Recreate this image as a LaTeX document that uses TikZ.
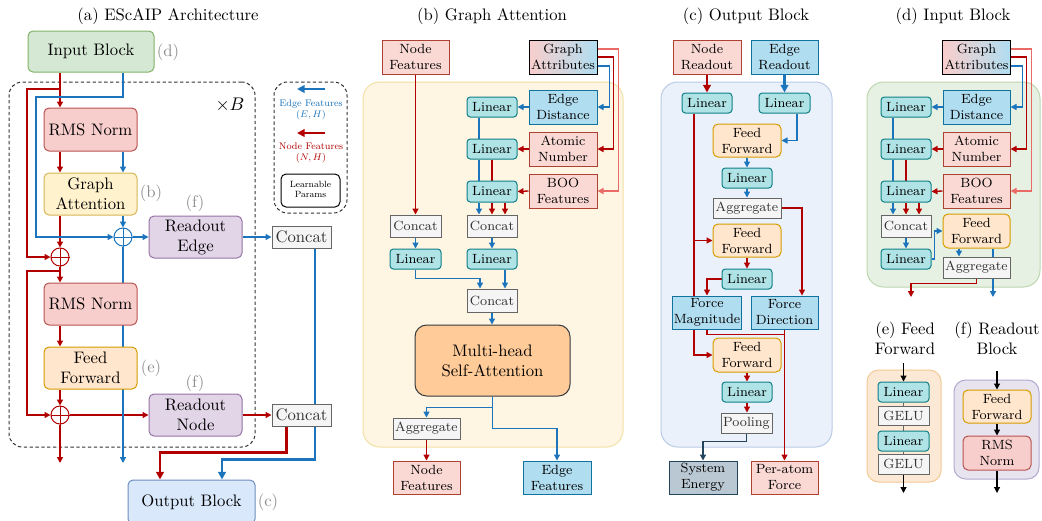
\documentclass[tikz,border=0pt]{standalone}
\usetikzlibrary{arrows.meta,calc}
\pgfdeclarelayer{panel}
\pgfdeclarelayer{lines}
\pgfsetlayers{panel,lines,main}
\definecolor{nred}{HTML}{B20000}
\definecolor{lred}{HTML}{EA6B66}
\definecolor{eblue}{HTML}{1C75BC}
\definecolor{redF}{HTML}{FAD9D5}\definecolor{redD}{HTML}{AE4132}
\definecolor{bluF}{HTML}{B1DDF0}\definecolor{bluD}{HTML}{10739E}
\definecolor{linF}{HTML}{B0E3E6}\definecolor{linD}{HTML}{0E8088}
\definecolor{gryF}{HTML}{F5F5F5}\definecolor{gryD}{HTML}{666666}
\definecolor{ffF}{HTML}{FFE6CC}\definecolor{ffD}{HTML}{D79B00}
\definecolor{rmsF}{HTML}{F8CECC}\definecolor{rmsD}{HTML}{B85450}
\definecolor{gaF}{HTML}{FFF2CC}\definecolor{gaD}{HTML}{D6B656}
\definecolor{puF}{HTML}{E1D5E7}\definecolor{puD}{HTML}{9673A6}
\definecolor{inF}{HTML}{D5E8D4}\definecolor{inD}{HTML}{82B366}
\definecolor{outF}{HTML}{DAE8FC}\definecolor{outD}{HTML}{6C8EBF}
\definecolor{mhF}{HTML}{FFCC99}\definecolor{mhD}{HTML}{36393D}
\definecolor{seF}{HTML}{BAC8D3}\definecolor{seD}{HTML}{23445D}
\definecolor{pbF}{HTML}{FEF5E2}\definecolor{pbD}{HTML}{F2E0A6}
\definecolor{pcF}{HTML}{EBF1FB}\definecolor{pcD}{HTML}{B9CBE6}
\definecolor{pdF}{HTML}{E7F1E3}\definecolor{pdD}{HTML}{BCD6AE}
\definecolor{peF}{HTML}{FCE9D5}\definecolor{peD}{HTML}{F2C994}
\definecolor{pfF}{HTML}{E7E3EF}\definecolor{pfD}{HTML}{B3A9CF}
\newcommand\mybox[7]{\node[#1, minimum width={((#5)-(#3))*0.6pt}, minimum height={((#6)-(#4))*0.6pt}] (#2) at ({((#3)+(#5))/2},{((#4)+(#6))/2}) {#7};}
\tikzset{
 bx/.style={draw, line width=0.6pt, inner sep=1pt, align=center},
 bigf/.style={font=\fontsize{10}{12}\selectfont},
 smf/.style={font=\fontsize{8}{9.6}\selectfont},
 inbox/.style={bx,bigf,rounded corners=3pt,fill=inF,draw=inD},
 rmsbox/.style={bx,bigf,rounded corners=3pt,fill=rmsF,draw=rmsD},
 gabox/.style={bx,bigf,rounded corners=3pt,fill=gaF,draw=gaD},
 ffbig/.style={bx,bigf,rounded corners=3pt,fill=ffF,draw=ffD},
 pubox/.style={bx,bigf,rounded corners=3pt,fill=puF,draw=puD},
 catbig/.style={bx,bigf,fill=gryF,draw=gryD,text=black!80},
 outbox/.style={bx,bigf,rounded corners=3pt,fill=outF,draw=outD},
 redbox/.style={bx,smf,fill=redF,draw=redD},
 blubox/.style={bx,smf,fill=bluF,draw=bluD},
 attbox/.style={bx,smf,left color=rmsF,right color=bluF,draw=black},
 linbox/.style={bx,smf,rounded corners=2pt,fill=linF,draw=linD},
 catbox/.style={bx,smf,fill=gryF,draw=gryD,text=black!80},
 ffbox/.style={bx,smf,rounded corners=3pt,fill=ffF,draw=ffD},
 rmssm/.style={bx,smf,rounded corners=3pt,fill=rmsF,draw=rmsD},
 mhbox/.style={bx,bigf,rounded corners=7pt,fill=mhF,draw=mhD},
 sebox/.style={bx,smf,fill=seF,draw=seD},
 pnl/.style={draw, line width=0.6pt, rounded corners=10pt},
 dashbox/.style={draw=black!80, line width=0.6pt, dash pattern=on 2pt off 1.5pt, rounded corners=8pt},
 lpbox/.style={draw=black, line width=0.6pt, rounded corners=3pt, align=center, inner sep=0pt, font=\fontsize{8}{9.6}\selectfont},
 lgtxt/.style={font=\fontsize{8}{9.6}\selectfont, align=center},
 ttl/.style={font=\fontsize{10}{12}\selectfont, align=center},
 glbl/.style={font=\fontsize{10}{12}\selectfont, text=black!45},
 rl/.style={draw=nred, line width=0.8pt},
 ll/.style={draw=lred, line width=0.8pt},
 bl/.style={draw=eblue, line width=0.8pt},
 kl/.style={draw=black, line width=0.7pt},
 arr/.style={-{Triangle[length=3.6pt,width=3.6pt]}},
 tarr/.style={-{Triangle[length=4.6pt,width=4.6pt]}},
 thk/.style={line width=1.5pt},
 pls/.style={circle, draw, line width=0.6pt, minimum size=10.8pt, inner sep=0pt},
}
\begin{document}
\begin{tikzpicture}[x=0.6pt,y=-0.6pt]
\useasboundingbox (0,0) rectangle (1042,520);
\begin{pgfonlayer}{panel}
\fill[white] (0,0) rectangle (1042,520);
\end{pgfonlayer}
% ================= (a) =================
\node[ttl] (ta) at (168,16) {(a) EScAIP Architecture};
\mybox{inbox}{inb}{28}{31}{154}{72}{Input Block}
\node[glbl] (ld) at (168,52) {(d)};
\begin{pgfonlayer}{panel}
\mybox{dashbox}{blk}{9}{82}{255}{447}{}
\mybox{dashbox}{lg}{274}{82}{347}{213}{}
\end{pgfonlayer}
\node[font=\fontsize{11}{13}\selectfont] (xb) at (230,105) {$\times B$};
\mybox{rmsbox}{rms1}{44}{108}{137}{151}{RMS Norm}
\mybox{gabox}{ga}{44}{173}{137}{215}{Graph\\Attention}
\node[glbl] (lb) at (151,193) {(b)};
\node[glbl] (lf1) at (195,203) {(f)};
\mybox{pubox}{re}{149}{216}{242}{258}{Readout\\Edge}
\mybox{catbig}{c1}{272}{226}{331}{248}{Concat}
\node[pls, draw=eblue] (pb) at (123,237) {};
\draw[eblue, line width=0.6pt] (pb.north) -- (pb.south) (pb.west) -- (pb.east);
\node[pls, draw=nred] (pr1) at (60,257) {};
\draw[nred, line width=0.6pt] (pr1.north) -- (pr1.south) (pr1.west) -- (pr1.east);
\node[pls, draw=nred] (pr2) at (60,415) {};
\draw[nred, line width=0.6pt] (pr2.north) -- (pr2.south) (pr2.west) -- (pr2.east);
\mybox{rmsbox}{rms2}{44}{283}{137}{325}{RMS Norm}
\mybox{ffbig}{ff}{44}{347}{137}{389}{Feed\\Forward}
\node[glbl] (le) at (151,368) {(e)};
\node[glbl] (lf2) at (195,383) {(f)};
\mybox{pubox}{rn}{149}{394}{242}{436}{Readout\\Node}
\mybox{catbig}{c2}{272}{404}{331}{426}{Concat}
\begin{scope}
\clip (0,0) rectangle (1042,520);
\mybox{outbox}{ob}{128}{480}{255}{524}{Output Block}
\end{scope}
\node[glbl] (lc) at (268,502) {(c)};
\coordinate (aN) at (60,463);
\coordinate (aE) at (123,463);
% legend
\coordinate (lgb1) at (325,89); \coordinate (lgb2) at (297,89);
\coordinate (lgr1) at (325,133); \coordinate (lgr2) at (297,133);
\node[lgtxt, text=eblue] (lgE) at (311,110) {\scalebox{0.72}{\begin{tabular}{@{}c@{}}Edge Features\\[-0.5pt]$(E,H)$\end{tabular}}};
\node[lgtxt, text=nred] (lgN) at (311,153) {\scalebox{0.72}{\begin{tabular}{@{}c@{}}Node Features\\[-0.5pt]$(N,H)$\end{tabular}}};
\mybox{lpbox}{lp}{281}{174}{340}{207}{\scalebox{0.68}{\begin{tabular}{@{}c@{}}Learnable\\[-1pt]Params\end{tabular}}}
\begin{pgfonlayer}{lines}
\draw[rl,arr] (pr1 |- inb.south) -- (pr1 |- rms1.north);
\draw[rl,arr] (60,89) -- (27,89) -- (27,257) -- (pr1.west);
\draw[rl,arr] (pr1 |- rms1.south) -- (pr1 |- ga.north);
\draw[rl,arr] (pr1 |- ga.south) -- (pr1.north);
\draw[rl,arr] (pr1.south) -- (pr1 |- rms2.north);
\draw[rl,arr] (60,271) -- (27,271) -- (27,415) -- (pr2.west);
\draw[rl,arr] (pr1 |- rms2.south) -- (pr1 |- ff.north);
\draw[rl,arr] (pr2 |- ff.south) -- (pr2.north);
\draw[rl,arr] (pr2.east) -- (rn.west);
\draw[rl,arr] (pr2.south) -- (aN);
\draw[rl,arr] (rn.east) -- (c2.west);
\draw[rl,thk,tarr] ($(c2.south)+(-15,0)$) -- ++(0,26) -| ($(ob.north)+(-31.5,0)$);
\draw[bl,arr] (pb |- inb.south) -- (123,97) -- (36,97) -- (36,237) -- (pb.west);
\draw[bl,arr] (pb |- rms1.south) -- (pb |- ga.north);
\draw[bl,arr] (pb |- ga.south) -- (pb.north);
\draw[bl,arr] (pb.east) -- (re.west);
\draw[bl,arr] (pb.south) -- (aE);
\draw[bl,arr] (re.east) -- (c1.west);
\draw[bl,thk,tarr] ($(c1.south)+(13.5,0)$) -- ($(c2.south)+(13.5,33)$) -| ($(ob.north)+(30.5,0)$);
\draw[bl,line width=1.2pt,tarr] (lgb1) -- (lgb2);
\draw[rl,line width=1.2pt,tarr] (lgr1) -- (lgr2);
\end{pgfonlayer}
% ================= (b) =================
\node[ttl] (tb) at (492,16) {(b) Graph Attention};
\begin{pgfonlayer}{panel}
\mybox{pnl,fill=pbF,draw=pbD}{PB}{363}{82}{623}{447}{}
\end{pgfonlayer}
\mybox{redbox}{nf1}{382}{40}{449}{74}{Node\\Features}
\mybox{attbox}{ga1}{529}{40}{597}{74}{Graph\\Attributes}
\mybox{blubox}{ed1}{529}{90}{597}{124}{Edge\\Distance}
\mybox{redbox}{an1}{529}{132}{597}{166}{Atomic\\Number}
\mybox{redbox}{bo1}{529}{174}{597}{208}{BOO\\Features}
\mybox{linbox}{l1}{467}{97}{517}{117}{Linear}
\mybox{linbox}{l2}{467}{139}{517}{159}{Linear}
\mybox{linbox}{l3}{467}{181}{517}{202}{Linear}
\mybox{catbox}{cl}{390}{215}{441}{237}{Concat}
\mybox{catbox}{cr}{467}{215}{517}{237}{Concat}
\mybox{linbox}{lL1}{390}{249}{441}{269}{Linear}
\mybox{linbox}{lR1}{467}{249}{517}{269}{Linear}
\mybox{catbox}{cm}{467}{289}{517}{312}{Concat}
\mybox{mhbox}{mh}{415}{325}{570}{396}{Multi-head\\Self-Attention}
\mybox{catbox}{ag}{393}{418}{460}{439}{Aggregate}
\mybox{redbox}{nfo}{393}{461}{460}{494}{Node\\Features}
\mybox{blubox}{efo}{523}{461}{591}{494}{Edge\\Features}
\begin{pgfonlayer}{lines}
\draw[rl,arr] (nf1.south) -- (nf1.south |- cl.north);
\draw[ll,arr] ($(ga1.east)+(0,-8)$) -| ($(bo1.east)+(21,0)$) -- (bo1.east);
\draw[rl,arr] (ga1.east) -| ($(an1.east)+(16,0)$) -- (an1.east);
\draw[bl,arr] ($(ga1.east)+(0,9)$) -| ($(ed1.east)+(12,0)$) -- (ed1.east);
\draw[bl,arr] (ed1.west) -- (l1.east);
\draw[rl,arr] (an1.west) -- (l2.east);
\draw[rl,arr] (bo1.west) -- (l3.east);
\draw[bl] ($(l1.south)+(-13,0)$) -- ($(l2.north)+(-13,0)$);
\draw[bl] ($(l2.south)+(-13,0)$) -- ($(l3.north)+(-13,0)$);
\draw[rl] (l2.south) -- (l3.north);
\draw[bl,arr] ($(l3.south)+(-13,0)$) -- ($(cr.north)+(-13,0)$);
\draw[rl,arr] (l3.south) -- (cr.north);
\draw[rl,arr] ($(l3.south)+(13,0)$) -- ($(cr.north)+(13,0)$);
\draw[bl,arr] (cr.south) -- (lR1.north);
\draw[bl,arr] (cl.south) -- (lL1.north);
\draw[bl,arr] (lL1.south) -- ++(0,9) -| ($(cm.north)+(-12,0)$);
\draw[bl,arr] ($(lR1.south)+(13,0)$) -- ($(cm.north)+(13,0)$);
\draw[bl,arr] (cm.south) -- (cm.south |- mh.north);
\draw[bl,arr] (mh.south) -- ++(0,11) -| (ag.north);
\draw[bl,arr] (mh.south) -- ++(0,32) -| (efo.north);
\draw[rl,arr] (ag.south) -- (nfo.north);
\end{pgfonlayer}
% ================= (c) =================
\node[ttl] (tc) at (746,16) {(c) Output Block};
\begin{pgfonlayer}{panel}
\mybox{pnl,fill=pcF,draw=pcD}{PC}{661}{82}{832}{447}{}
\end{pgfonlayer}
\mybox{redbox}{nr}{673}{40}{741}{74}{Node\\Readout}
\mybox{blubox}{er}{751}{40}{818}{74}{Edge\\Readout}
\mybox{linbox}{cL}{682}{93}{732}{113}{Linear}
\mybox{linbox}{cR}{759}{93}{810}{113}{Linear}
\mybox{ffbox}{ff1}{713}{124}{781}{157}{Feed\\Forward}
\mybox{linbox}{lm1}{722}{168}{772}{188}{Linear}
\mybox{catbox}{agc}{713}{198}{781}{218}{Aggregate}
\mybox{ffbox}{ff2}{713}{224}{781}{257}{Feed\\Forward}
\mybox{linbox}{lm2}{722}{269}{772}{289}{Linear}
\mybox{blubox}{fm}{673}{296}{741}{329}{Force\\Magnitude}
\mybox{blubox}{fd}{751}{296}{818}{329}{Force\\Direction}
\mybox{ffbox}{ff3}{713}{338}{781}{372}{Feed\\Forward}
\mybox{linbox}{lm3}{722}{382}{772}{402}{Linear}
\mybox{catbox}{pool}{721}{413}{772}{433}{Pooling}
\mybox{sebox}{se}{669}{461}{737}{494}{System\\Energy}
\mybox{redbox}{pa}{751}{461}{818}{494}{Per-atom\\Force}
\begin{pgfonlayer}{lines}
\draw[rl,thk,tarr] (nr.south) -- (nr.south |- cL.north);
\draw[bl,thk,tarr] (er.south) -- (er.south |- cR.north);
\draw[bl,arr] ($(cR.south)+(12.5,0)$) |- (ff1.east);
\draw[bl,arr] (ff1.south) -- (ff1.south |- lm1.north);
\draw[bl,arr] (lm1.south) -- (lm1.south |- agc.north);
\draw[rl,arr] (agc.east) -| ($(fd.north)+(17.5,0)$);
\draw[rl,arr] ($(cL.south)+(-13,0)$) |- (ff2.west);
\draw[rl,arr] ($(cL.south)+(-13,0)$) |- (ff3.west);
\draw[rl,arr] (ff2.south) -- (ff2.south |- lm2.north);
\draw[rl,arr] (lm2.west) -| (fm.north);
\draw[rl] (fm.south) |- ($(fd.south)+(0,5)$);
\draw[rl,arr] (fd.south) -- (fd.south |- pa.north);
\draw[rl,arr] (ff3.south) -- (ff3.south |- lm3.north);
\draw[rl,arr] (lm3.south) -- (lm3.south |- pool.north);
\draw[draw=seD,line width=0.8pt,arr] (pool.south) -- ++(0,8) -| (se.north);
\end{pgfonlayer}
% ================= (d) =================
\node[ttl] (td) at (953,16) {(d) Input Block};
\begin{pgfonlayer}{panel}
\mybox{pnl,fill=pdF,draw=pdD}{PD}{867}{82}{1040}{287}{}
\end{pgfonlayer}
\mybox{attbox}{gad}{943}{40}{1010}{74}{Graph\\Attributes}
\mybox{blubox}{edd}{943}{90}{1010}{124}{Edge\\Distance}
\mybox{redbox}{dAN}{943}{132}{1010}{166}{Atomic\\Number}
\mybox{redbox}{bod}{943}{174}{1010}{208}{BOO\\Features}
\mybox{linbox}{d1}{881}{97}{931}{117}{Linear}
\mybox{linbox}{d2}{881}{139}{931}{159}{Linear}
\mybox{linbox}{d3}{881}{181}{931}{202}{Linear}
\mybox{catbox}{cd}{881}{215}{931}{237}{Concat}
\mybox{linbox}{d4}{881}{249}{931}{269}{Linear}
\mybox{ffbox}{ffd}{943}{214}{1010}{248}{Feed\\Forward}
\mybox{catbox}{agd}{943}{257}{1010}{278}{Aggregate}
\coordinate (dNo) at (911,297);
\coordinate (dEo) at (993,297);
\begin{pgfonlayer}{lines}
\draw[ll,arr] ($(gad.east)+(0,-8)$) -| ($(bod.east)+(21,0)$) -- (bod.east);
\draw[rl,arr] (gad.east) -| ($(dAN.east)+(16,0)$) -- (dAN.east);
\draw[bl,arr] ($(gad.east)+(0,9)$) -| ($(edd.east)+(12,0)$) -- (edd.east);
\draw[bl,arr] (edd.west) -- (d1.east);
\draw[rl,arr] (dAN.west) -- (d2.east);
\draw[rl,arr] (bod.west) -- (d3.east);
\draw[bl] ($(d1.south)+(-13,0)$) -- ($(d2.north)+(-13,0)$);
\draw[bl] ($(d2.south)+(-13,0)$) -- ($(d3.north)+(-13,0)$);
\draw[rl] (d2.south) -- (d3.north);
\draw[bl,arr] ($(d3.south)+(-13,0)$) -- ($(cd.north)+(-13,0)$);
\draw[rl,arr] (d3.south) -- (cd.north);
\draw[rl,arr] ($(d3.south)+(13,0)$) -- ($(cd.north)+(13,0)$);
\draw[bl,arr] (cd.south) -- (d4.north);
\draw[bl,arr] (d4.east) -- ++(3,0) |- (ffd.west);
\draw[bl,arr] ($(ffd.south)+(-17.5,0)$) -- ($(agd.north)+(-17.5,0)$);
\draw[bl,arr] ($(ffd.south)+(16.5,0)$) -- (dEo);
\draw[rl,arr] (agd.south) -- ++(0,5) -| (dNo);
\end{pgfonlayer}
% ================= (e) =================
\node[ttl] (te) at (905,338) {(e) Feed\\Forward};
\begin{pgfonlayer}{panel}
\mybox{pnl,fill=peF,draw=peD,rounded corners=7pt}{PE}{867}{370}{941}{482}{}
\end{pgfonlayer}
\mybox{linbox}{e1}{878}{382}{929}{402}{Linear}
\mybox{catbox}{e2}{878}{406}{929}{425}{GELU}
\mybox{linbox}{e3}{878}{431}{929}{451}{Linear}
\mybox{catbox}{e4}{878}{454}{929}{474}{GELU}
\coordinate (eIn) at (903.5,363);
\coordinate (eOut) at (903.5,493);
\begin{pgfonlayer}{lines}
\draw[kl,arr] (eIn) -- (e1.north);
\draw[draw=black!60,line width=0.6pt] (e1.south) -- (e2.north) (e2.south) -- (e3.north) (e3.south) -- (e4.north);
\draw[kl,arr] (e4.south) -- (eOut);
\end{pgfonlayer}
% ================= (f) =================
\node[ttl] (tf) at (997,338) {(f) Readout\\Block};
\begin{pgfonlayer}{panel}
\mybox{pnl,fill=pfF,draw=pfD,rounded corners=7pt}{PF}{954}{380}{1039}{479}{}
\end{pgfonlayer}
\mybox{ffbox}{f1}{963}{390}{1031}{423}{Feed\\Forward}
\mybox{rmssm}{f2}{963}{436}{1031}{470}{RMS\\Norm}
\coordinate (fIn) at (997,371);
\coordinate (fOut) at (997,493);
\begin{pgfonlayer}{lines}
\draw[kl,arr] (fIn) -- (f1.north);
\draw[kl,arr] (f1.south) -- (f2.north);
\draw[kl,arr] (f2.south) -- (fOut);
\end{pgfonlayer}
\end{tikzpicture}
\end{document}
